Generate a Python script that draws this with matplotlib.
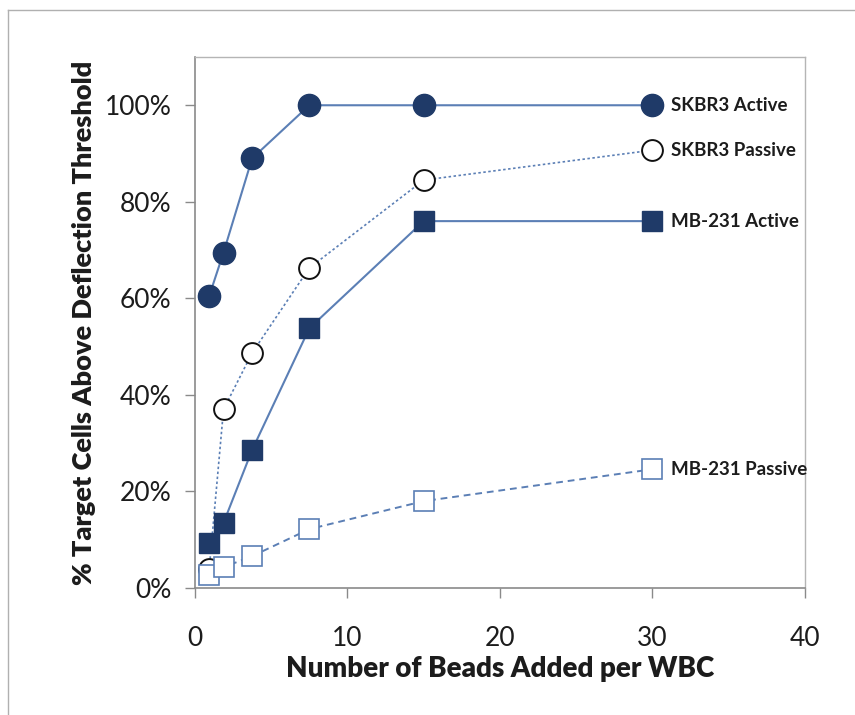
import matplotlib
matplotlib.use("Agg")
import matplotlib.pyplot as plt
from matplotlib.lines import Line2D
from matplotlib.ticker import PercentFormatter

plt.rcParams['font.family'] = ['Lato', 'DejaVu Sans']

# Beads per white blood cell (two-fold dilution series)
beads = [0.9375, 1.875, 3.75, 7.5, 15, 30]

skbr3_active = [0.605, 0.695, 0.89, 1.00, 1.00, 1.00]
skbr3_passive = [0.04, 0.37, 0.487, 0.663, 0.845, 0.907]
mb231_active = [0.093, 0.135, 0.286, 0.538, 0.76, 0.76]
mb231_passive = [0.027, 0.043, 0.066, 0.122, 0.18, 0.246]

series_names = ["SKBR3 Active", "SKBR3 Passive", "MB-231 Active", "MB-231 Passive"]

xticks = [0, 10, 20, 30, 40]
yticks = [0, 0.2, 0.4, 0.6, 0.8, 1.0]

navy = "#1f3a68"
line_blue = "#5b7fb5"
text_dark = "#1c1c1c"

fig = plt.figure(figsize=(8.55, 7.15), dpi=100)
ax = fig.add_axes([0.228, 0.1776, 0.7135, 0.7427])

# thin border around the figure
fig.add_artist(Line2D([8 / 855, 8 / 855], [0, 1 - 10 / 715], transform=fig.transFigure,
                      color="#b0b0b0", lw=1.0))
fig.add_artist(Line2D([8 / 855, 1], [1 - 10 / 715, 1 - 10 / 715], transform=fig.transFigure,
                      color="#b0b0b0", lw=1.0))

ax.plot(beads, mb231_passive, linestyle=(0, (3.5, 2.5)), color=line_blue, lw=1.4,
        marker="s", markersize=14, markerfacecolor="white", markeredgecolor=line_blue,
        markeredgewidth=1.2, zorder=3)
ax.plot(beads, skbr3_passive, linestyle=(0, (1.5, 1.5)), color=line_blue, lw=1.2,
        marker="o", markersize=15, markerfacecolor="white", markeredgecolor="#111111",
        markeredgewidth=1.4, zorder=2)
ax.plot(beads, mb231_active, linestyle="-", color=line_blue, lw=1.5,
        marker="s", markersize=15, markerfacecolor=navy, markeredgecolor=navy, zorder=4)
ax.plot(beads, skbr3_active, linestyle="-", color=line_blue, lw=1.5,
        marker="o", markersize=16, markerfacecolor=navy, markeredgecolor=navy, zorder=4)

# series labels next to the last point of each curve
for name, vals in zip(series_names, [skbr3_active, skbr3_passive, mb231_active, mb231_passive]):
    ax.annotate(name, xy=(beads[-1], vals[-1]), xytext=(13, 0), textcoords="offset points",
                va="center", ha="left", fontsize=13.5, fontweight="bold", color=text_dark)

ax.set_xlim(0, 40)
ax.set_ylim(0, 1.1)
ax.set_xticks(xticks)
ax.set_yticks(yticks)
ax.yaxis.set_major_formatter(PercentFormatter(1.0, decimals=0))

for side in ["left", "bottom"]:
    ax.spines[side].set_color("#8a8a8a")
    ax.spines[side].set_linewidth(1.2)
for side in ["top", "right"]:
    ax.spines[side].set_color("#b5b5b5")
    ax.spines[side].set_linewidth(1.0)

ax.tick_params(axis="both", direction="out", length=7, width=1.0, color="#8a8a8a",
               labelsize=19, labelcolor=text_dark)
ax.tick_params(axis="x", pad=20)
ax.tick_params(axis="y", pad=10)

ax.set_xlabel("Number of Beads Added per WBC", fontsize=20, fontweight="heavy",
              color=text_dark, labelpad=4)
ax.set_ylabel("% Target Cells Above Deflection Threshold", fontsize=19.5, fontweight="heavy",
              color=text_dark, labelpad=6)

fig.savefig("out.png", dpi=100)
